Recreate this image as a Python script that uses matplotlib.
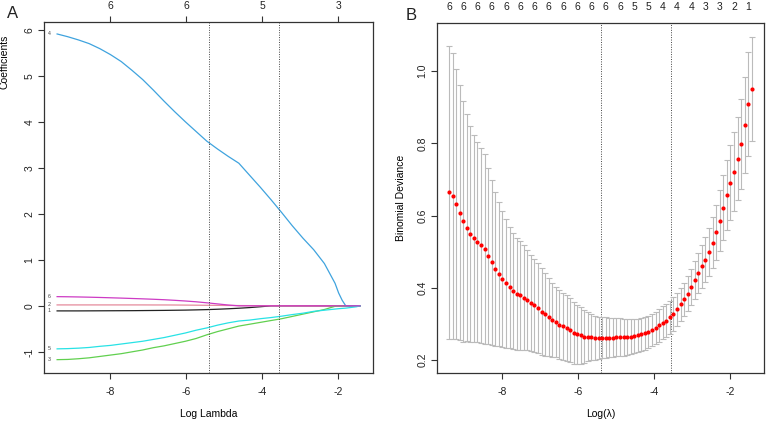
import matplotlib
matplotlib.use("Agg")
import matplotlib.pyplot as plt

plt.rcParams['font.family'] = ['Liberation Sans', 'DejaVu Sans']
plt.rcParams['axes.unicode_minus'] = False

# ---------------- data: cross-validation (panel B) ----------------
log_lambda = [-9.395, -9.301, -9.207, -9.114, -9.020, -8.926, -8.832, -8.738, -8.645, -8.551,
              -8.457, -8.363, -8.269, -8.176, -8.082, -7.988, -7.894, -7.800, -7.707, -7.613,
              -7.519, -7.425, -7.331, -7.238, -7.144, -7.050, -6.956, -6.862, -6.769, -6.675,
              -6.581, -6.487, -6.393, -6.300, -6.206, -6.112, -6.018, -5.924, -5.831, -5.737,
              -5.643, -5.549, -5.455, -5.362, -5.268, -5.174, -5.080, -4.986, -4.893, -4.799,
              -4.705, -4.611, -4.517, -4.424, -4.330, -4.236, -4.142, -4.048, -3.955, -3.861,
              -3.767, -3.673, -3.579, -3.486, -3.392, -3.298, -3.204, -3.110, -3.017, -2.923,
              -2.829, -2.735, -2.641, -2.548, -2.454, -2.360, -2.266, -2.172, -2.079, -1.985,
              -1.891, -1.797, -1.703, -1.610, -1.516, -1.422]

cv_mean = [0.664, 0.654, 0.631, 0.608, 0.584, 0.566, 0.549, 0.537, 0.526, 0.517,
           0.507, 0.488, 0.470, 0.452, 0.438, 0.425, 0.412, 0.401, 0.391, 0.384,
           0.379, 0.373, 0.367, 0.359, 0.351, 0.343, 0.334, 0.326, 0.319, 0.311,
           0.305, 0.298, 0.293, 0.288, 0.283, 0.275, 0.271, 0.268, 0.265, 0.264,
           0.263, 0.262, 0.262, 0.262, 0.262, 0.262, 0.262, 0.263, 0.263, 0.263,
           0.264, 0.265, 0.266, 0.268, 0.271, 0.274, 0.278, 0.283, 0.288, 0.296,
           0.303, 0.309, 0.318, 0.328, 0.340, 0.354, 0.368, 0.384, 0.402, 0.421,
           0.440, 0.459, 0.478, 0.499, 0.525, 0.553, 0.586, 0.622, 0.658, 0.691,
           0.721, 0.757, 0.798, 0.850, 0.909, 0.951]

cv_sd = [0.405, 0.396, 0.374, 0.352, 0.334, 0.314, 0.299, 0.287, 0.277, 0.270,
         0.263, 0.244, 0.228, 0.214, 0.200, 0.188, 0.178, 0.168, 0.161, 0.155,
         0.150, 0.146, 0.138, 0.133, 0.129, 0.125, 0.120, 0.114, 0.108, 0.103,
         0.098, 0.095, 0.093, 0.091, 0.089, 0.086, 0.082, 0.078, 0.073, 0.068,
         0.064, 0.061, 0.058, 0.057, 0.056, 0.055, 0.054, 0.053, 0.052, 0.051,
         0.049, 0.048, 0.047, 0.046, 0.046, 0.046, 0.045, 0.045, 0.045, 0.045,
         0.046, 0.046, 0.046, 0.047, 0.046, 0.046, 0.046, 0.048, 0.049, 0.052,
         0.055, 0.060, 0.063, 0.067, 0.071, 0.077, 0.084, 0.091, 0.097, 0.104,
         0.109, 0.115, 0.124, 0.133, 0.144, 0.144]

cv_top_labels = ['6', '6', '6', '6', '6', '6', '6', '6', '6', '6', '6', '6', '6',
                 '5', '5', '4', '4', '4', '3', '3', '2', '1']

lambda_min_log = -5.40
lambda_1se_log = -3.55

# ---------------- data: coefficient paths (panel A) ----------------
path_log_lambda = [-9.395, -9.114, -8.832, -8.551, -8.269, -7.988, -7.707, -7.425, -7.144, -6.862,
                   -6.581, -6.300, -6.018, -5.737, -5.455, -5.174, -4.893, -4.611, -4.330, -4.048,
                   -3.767, -3.486, -3.204, -2.923, -2.641, -2.360, -2.079, -1.985, -1.891, -1.797,
                   -1.516, -1.422]

coef_1 = [-0.110, -0.110, -0.110, -0.109, -0.108, -0.107, -0.106, -0.105, -0.103, -0.101,
          -0.099, -0.096, -0.093, -0.088, -0.082, -0.074, -0.064, -0.052, -0.038, -0.020,
          0, 0, 0, 0, 0, 0, 0, 0, 0, 0, 0, 0]
coef_2 = [0.020, 0.020, 0.020, 0.020, 0.020, 0.020, 0.020, 0.020, 0.020, 0.019,
          0.019, 0.018, 0.016, 0.014, 0.012, 0.010, 0.008, 0.006, 0.005, 0.004,
          0.003, 0.002, 0.001, 0.0005, 0, 0, 0, 0, 0, 0, 0, 0]
coef_3 = [-1.17, -1.165, -1.15, -1.13, -1.10, -1.07, -1.04, -1.00, -0.96, -0.91,
          -0.87, -0.82, -0.77, -0.71, -0.63, -0.56, -0.50, -0.44, -0.40, -0.36,
          -0.32, -0.28, -0.23, -0.18, -0.13, -0.08, -0.01, 0, 0, 0, 0, 0]
coef_4 = [5.91, 5.85, 5.78, 5.70, 5.59, 5.46, 5.31, 5.12, 4.92, 4.69,
          4.45, 4.22, 4.00, 3.79, 3.58, 3.41, 3.25, 3.10, 2.84, 2.58,
          2.31, 2.03, 1.74, 1.47, 1.22, 0.92, 0.49, 0.28, 0.12, 0,
          0, 0]
coef_5 = [-0.935, -0.93, -0.92, -0.905, -0.88, -0.86, -0.83, -0.80, -0.77, -0.73,
          -0.69, -0.64, -0.59, -0.53, -0.48, -0.42, -0.37, -0.33, -0.31, -0.28,
          -0.255, -0.225, -0.19, -0.16, -0.12, -0.095, -0.07, -0.062, -0.056, -0.05,
          -0.02, 0]
coef_6 = [0.200, 0.197, 0.193, 0.188, 0.182, 0.175, 0.168, 0.160, 0.152, 0.143,
          0.133, 0.120, 0.105, 0.088, 0.066, 0.042, 0.018, 0, 0, 0,
          0, 0, 0, 0, 0, 0, 0, 0, 0, 0, 0, 0]
coef_names = ['1', '2', '3', '4', '5', '6']
coef_colors = ['#222222', '#E58A9C', '#61D04F', '#3FA3DE', '#28E2E5', '#CD3BC4']

path_top_ticks = [-8, -6, -4, -2]
path_top_labels = ['6', '6', '5', '3']

# ---------------- figure ----------------
W, H = 767, 421
fig = plt.figure(figsize=(W / 100, H / 100), dpi=100)

def fx(px):
    return px / W

def fy(py):
    return 1 - py / H

axA = fig.add_axes([fx(44), fy(373), fx(373 - 44), (373 - 22) / H])
axB = fig.add_axes([fx(437), fy(373), fx(764 - 437), (373 - 23) / H])

frame_col = '#333333'
tick_kw = dict(direction='out', length=4, width=0.8, colors=frame_col,
               labelsize=7.5, labelcolor='#222222')

def style(ax):
    for s in ax.spines.values():
        s.set_color(frame_col)
        s.set_linewidth(0.9)
    ax.tick_params(**tick_kw)
    ax.tick_params(axis='x', pad=6)
    ax.tick_params(axis='y', pad=3)
    for lbl in ax.get_yticklabels():
        lbl.set_rotation(90)
        lbl.set_va('center')

# ---- panel A ----
coefs = [coef_1, coef_2, coef_3, coef_4, coef_5, coef_6]
for c, col in zip(coefs, coef_colors):
    axA.plot(path_log_lambda, c, color=col, lw=0.9)
for c, name in zip(coefs, coef_names):
    axA.text(path_log_lambda[0] - 0.2, c[0], name, fontsize=3.8, color='#444444',
             ha='center', va='center')
for xv in (lambda_min_log, lambda_1se_log):
    axA.axvline(xv, color='#444444', lw=0.7, ls=(0, (1, 1.5)))
axA.set_xlim(-9.74, -1.08)
axA.set_ylim(-1.46, 6.17)
axA.set_xticks([-8, -6, -4, -2])
axA.set_yticks([-1, 0, 1, 2, 3, 4, 5, 6])
style(axA)
axA.set_xlabel('Log Lambda', fontsize=7.5, labelpad=9)
axA.set_ylabel('Coefficients', fontsize=7.5)
axA.yaxis.set_label_coords((10 - 44) / (373 - 44), (373 - 62) / (373 - 22))
topA = axA.secondary_xaxis('top')
topA.set_xticks(path_top_ticks)
topA.set_xticklabels(path_top_labels)
topA.tick_params(direction='out', length=4, width=0.8, colors=frame_col,
                 labelsize=7.5, labelcolor='#222222', pad=4)
topA.spines['top'].set_visible(False)

# ---- panel B ----
axB.errorbar(log_lambda, cv_mean, yerr=cv_sd, fmt='none', ecolor='#BBBBBB',
             elinewidth=0.8, capsize=2.3, capthick=0.8, zorder=2)
axB.plot(log_lambda, cv_mean, 'o', color='#FF0000', ms=3.0, mec='none', zorder=3)
for xv in (lambda_min_log, lambda_1se_log):
    axB.axvline(xv, color='#444444', lw=0.7, ls=(0, (1, 1.5)), zorder=1)
axB.set_xlim(-9.71, -1.10)
axB.set_ylim(0.164, 1.133)
axB.set_xticks([-8, -6, -4, -2])
axB.set_yticks([0.2, 0.4, 0.6, 0.8, 1.0])
axB.set_yticklabels(['0.2', '0.4', '0.6', '0.8', '1.0'])
style(axB)
axB.set_xlabel('Log(\u03bb)', fontsize=7.5, labelpad=9)
axB.set_ylabel('Binomial Deviance', fontsize=7.5, labelpad=8)
topB = axB.secondary_xaxis('top')
topB.set_xticks(log_lambda[::4])
topB.set_xticklabels(cv_top_labels)
topB.tick_params(length=0, labelsize=7.5, labelcolor='#222222', pad=8)
topB.spines['top'].set_visible(False)

fig.text(fx(13), fy(14), 'A', fontsize=12, ha='center', va='center', color='#222222')
fig.text(fx(411), fy(15), 'B', fontsize=12, ha='center', va='center', color='#222222')

fig.savefig('out.png', dpi=100)
